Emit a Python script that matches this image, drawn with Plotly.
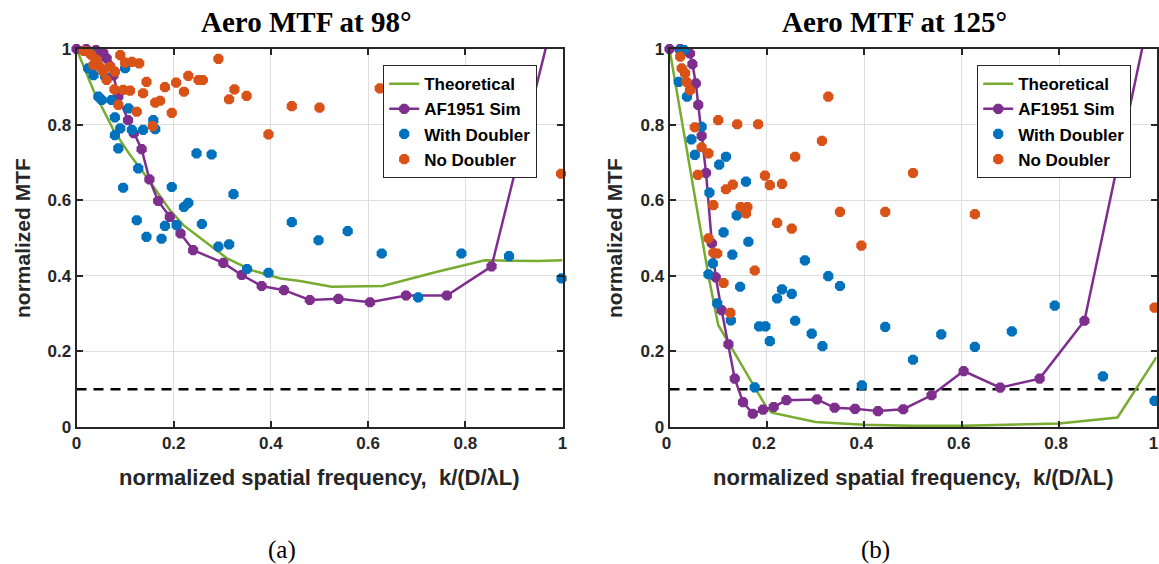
import plotly.graph_objects as go

# ---------------- data: panel (a) 98 deg ----------------
theo_a_x = [0, 0.035, 0.076, 0.11, 0.144, 0.192, 0.22, 0.26, 0.31, 0.36, 0.42, 0.46, 0.525, 0.63, 0.74, 0.84, 0.95, 1.0]
theo_a_y = [1, 0.89, 0.786, 0.72, 0.662, 0.574, 0.534, 0.494, 0.446, 0.415, 0.393, 0.386, 0.371, 0.373, 0.41, 0.441, 0.439, 0.441]

sim_a_x = [0, 0.02, 0.04, 0.055, 0.062, 0.069, 0.076, 0.086, 0.106, 0.118, 0.134, 0.150, 0.168, 0.192, 0.214,
           0.240, 0.302, 0.340, 0.381, 0.427, 0.480, 0.539, 0.604, 0.678, 0.762, 0.854, 1.0]
sim_a_y = [1, 1.0, 0.997, 0.99, 0.975, 0.955, 0.93, 0.874, 0.812, 0.777, 0.735, 0.655, 0.598, 0.556, 0.512,
           0.468, 0.434, 0.402, 0.373, 0.362, 0.336, 0.339, 0.330, 0.348, 0.348, 0.425, 1.18]

dbl_a_x = [0.024, 0.035, 0.059, 0.10, 0.045, 0.052, 0.072, 0.107, 0.079, 0.090, 0.079, 0.114, 0.137, 0.158, 0.162,
           0.086, 0.127, 0.247, 0.278, 0.096, 0.196, 0.323, 0.221, 0.230, 0.124, 0.182, 0.206, 0.258, 0.443,
           0.144, 0.175, 0.292, 0.314, 0.351, 0.395, 0.498, 0.558, 0.628, 0.703, 0.792, 0.890, 0.998, 0.03]
dbl_a_y = [0.949, 0.931, 0.927, 0.949, 0.874, 0.865, 0.865, 0.843, 0.819, 0.790, 0.772, 0.786, 0.786, 0.812, 0.788,
           0.737, 0.684, 0.724, 0.721, 0.633, 0.635, 0.616, 0.582, 0.593, 0.547, 0.532, 0.534, 0.537, 0.542,
           0.503, 0.498, 0.477, 0.483, 0.418, 0.408, 0.494, 0.518, 0.459, 0.343, 0.459, 0.452, 0.393, 0.99]

nod_a_x = [0.024, 0.031, 0.042, 0.035, 0.048, 0.055, 0.069, 0.079, 0.062, 0.090, 0.10, 0.114, 0.129, 0.292, 0.230,
           0.251, 0.26, 0.144, 0.205, 0.182, 0.221, 0.325, 0.350, 0.078, 0.096, 0.110, 0.137, 0.162, 0.172,
           0.314, 0.086, 0.124, 0.196, 0.157, 0.395, 0.443, 0.500, 0.624, 0.997, 0.015]
nod_a_y = [0.993, 0.984, 0.971, 0.958, 0.953, 0.940, 0.953, 0.940, 0.918, 0.984, 0.964, 0.966, 0.962, 0.974, 0.929,
           0.918, 0.918, 0.913, 0.911, 0.899, 0.887, 0.893, 0.876, 0.893, 0.892, 0.890, 0.883, 0.858, 0.863,
           0.867, 0.852, 0.834, 0.831, 0.796, 0.774, 0.849, 0.845, 0.896, 0.670, 0.995]

# ---------------- data: panel (b) 125 deg ----------------
theo_b_x = [0, 0.08, 0.10, 0.20, 0.21, 0.30, 0.40, 0.50, 0.60, 0.70, 0.80, 0.92, 1.0]
theo_b_y = [1, 0.40, 0.27, 0.05, 0.038, 0.013, 0.006, 0.003, 0.003, 0.005, 0.009, 0.025, 0.185]

sim_b_x = [0, 0.022, 0.042, 0.047, 0.054, 0.059, 0.066, 0.075, 0.087, 0.095, 0.107, 0.121, 0.134, 0.151, 0.171,
           0.192, 0.214, 0.240, 0.303, 0.339, 0.381, 0.428, 0.480, 0.538, 0.604, 0.679, 0.760, 0.852, 1.0]
sim_b_y = [1, 1.0, 0.988, 0.960, 0.909, 0.852, 0.770, 0.672, 0.486, 0.396, 0.309, 0.219, 0.128, 0.066, 0.035,
           0.046, 0.053, 0.071, 0.073, 0.051, 0.048, 0.042, 0.047, 0.084, 0.148, 0.104, 0.128, 0.281, 1.18]

dbl_b_x = [0.022, 0.030, 0.019, 0.036, 0.066, 0.045, 0.052, 0.116, 0.102, 0.157, 0.082, 0.138, 0.111, 0.162, 0.129,
           0.089, 0.080, 0.145, 0.098, 0.126, 0.184, 0.197, 0.206, 0.231, 0.221, 0.251, 0.258, 0.175, 0.278,
           0.326, 0.350, 0.292, 0.314, 0.395, 0.443, 0.500, 0.558, 0.627, 0.703, 0.791, 0.890, 0.996]
dbl_b_y = [0.997, 0.997, 0.913, 0.874, 0.794, 0.761, 0.720, 0.715, 0.694, 0.649, 0.620, 0.560, 0.515, 0.490, 0.456,
           0.433, 0.404, 0.371, 0.327, 0.282, 0.266, 0.266, 0.227, 0.364, 0.340, 0.352, 0.281, 0.105, 0.441,
           0.399, 0.373, 0.247, 0.214, 0.110, 0.265, 0.178, 0.245, 0.212, 0.253, 0.321, 0.134, 0.069]

nod_b_x = [0.022, 0.025, 0.032, 0.035, 0.042, 0.100, 0.139, 0.182, 0.052, 0.066, 0.080, 0.326, 0.313, 0.258,
           0.058, 0.196, 0.206, 0.231, 0.116, 0.130, 0.090, 0.146, 0.160, 0.157, 0.350, 0.221, 0.251, 0.080,
           0.090, 0.098, 0.175, 0.111, 0.125, 0.394, 0.443, 0.627, 0.500, 0.996]
nod_b_y = [0.980, 0.949, 0.936, 0.913, 0.891, 0.812, 0.801, 0.801, 0.793, 0.740, 0.724, 0.874, 0.757, 0.715,
           0.667, 0.665, 0.640, 0.643, 0.629, 0.641, 0.587, 0.582, 0.582, 0.565, 0.569, 0.540, 0.525, 0.499,
           0.461, 0.459, 0.414, 0.381, 0.302, 0.480, 0.569, 0.563, 0.672, 0.316]

threshold = 0.1

titles = ["Aero MTF at 98°", "Aero MTF at 125°"]
sublabels = ["(a)", "(b)"]
x_title = "normalized spatial frequency,  k/(D/λL)"
y_title = "normalized MTF"
tick_vals = [0, 0.2, 0.4, 0.6, 0.8, 1]
tick_text = ["0", "0.2", "0.4", "0.6", "0.8", "1"]

# ---------------- styles ----------------
GREEN = "#77AC30"
PURPLE = "#7E2F8E"
BLUE = "#0072BD"
ORANGE = "#D95319"
SANS = "Liberation Sans, Arial, sans-serif"
SERIF = "Liberation Serif, Times New Roman, serif"
W, H = 1159, 564

fig = go.Figure()

panels = [
    (theo_a_x, theo_a_y, sim_a_x, sim_a_y, dbl_a_x, dbl_a_y, nod_a_x, nod_a_y, "x", "y", "legend"),
    (theo_b_x, theo_b_y, sim_b_x, sim_b_y, dbl_b_x, dbl_b_y, nod_b_x, nod_b_y, "x2", "y2", "legend2"),
]
msym = dict(symbol="octagon", size=11)
for (tx, ty, sx, sy, dx, dy, nx, ny, xa, ya, lg) in panels:
    fig.add_trace(go.Scatter(x=[0, 1], y=[threshold, threshold], mode="lines", showlegend=False,
                             line=dict(color="black", width=2.5, dash="10px,7px"), xaxis=xa, yaxis=ya,
                             hoverinfo="skip"))
    fig.add_trace(go.Scatter(x=tx, y=ty, mode="lines", name="Theoretical", legend=lg, legendrank=1,
                             line=dict(color=GREEN, width=2.5), xaxis=xa, yaxis=ya))
    fig.add_trace(go.Scatter(x=sx, y=sy, mode="lines+markers", name="AF1951 Sim", legend=lg, legendrank=2,
                             line=dict(color=PURPLE, width=2.5), marker=dict(color=PURPLE, **msym),
                             xaxis=xa, yaxis=ya, cliponaxis=False))
    fig.add_trace(go.Scatter(x=dx, y=dy, mode="markers", name="With Doubler", legend=lg, legendrank=3,
                             marker=dict(color=BLUE, **msym), xaxis=xa, yaxis=ya, cliponaxis=False))
    fig.add_trace(go.Scatter(x=nx, y=ny, mode="markers", name="No Doubler", legend=lg, legendrank=4,
                             marker=dict(color=ORANGE, **msym), xaxis=xa, yaxis=ya, cliponaxis=False))

x_domains = [[76.5 / W, 562.5 / W], [669.5 / W, 1156.5 / W]]
y_domain = [1 - 427 / H, 1 - 49 / H]

axis_common = dict(range=[0, 1], showgrid=True, gridcolor="#dedede", gridwidth=1, automargin=False,
                   showline=True, linecolor="#262626", linewidth=2, mirror="allticks",
                   ticks="inside", ticklen=6, tickwidth=2, tickcolor="#262626",
                   tickvals=tick_vals, ticktext=tick_text, zeroline=False, ticklabeloverflow="allow",
                   tickfont=dict(family=SANS, size=17, color="#262626", weight="bold"))

fig.update_layout(
    template="none",
    width=W, height=H, margin=dict(l=0, r=0, t=0, b=0, autoexpand=False),
    paper_bgcolor="white", plot_bgcolor="white",
    xaxis=dict(domain=x_domains[0], anchor="y", **axis_common),
    yaxis=dict(domain=y_domain, anchor="x", **axis_common),
    xaxis2=dict(domain=x_domains[1], anchor="y2", ticklabelshift=-3, **axis_common),
    yaxis2=dict(domain=y_domain, anchor="x2", **axis_common),
)

leg_common = dict(bgcolor="white", bordercolor="#262626", borderwidth=1.2,
                  font=dict(family=SANS, size=17, color="black", weight="bold"),
                  xanchor="left", yanchor="top", tracegroupgap=0, itemwidth=30,
                  traceorder="normal")
fig.update_layout(
    legend=dict(x=383 / W, y=1 - 65 / H, **leg_common),
    legend2=dict(x=977 / W, y=1 - 65 / H, **leg_common),
)

annotations = []
title_cx = [306, 894]
plot_cx = [319.5, 913]
ytitle_x = [22, 614]
for i in range(2):
    annotations.append(dict(text=titles[i], x=title_cx[i] / W, y=1 - 22 / H, xref="paper", yref="paper",
                            showarrow=False, xanchor="center", yanchor="middle",
                            font=dict(family=SERIF, size=29, color="black", weight="bold")))
    annotations.append(dict(text=sublabels[i], x=[282, 875][i] / W, y=1 - 550 / H, xref="paper", yref="paper",
                            showarrow=False, xanchor="center", yanchor="middle",
                            font=dict(family=SERIF, size=25, color="black")))
    annotations.append(dict(text=x_title, x=plot_cx[i] / W, y=1 - 478 / H, xref="paper", yref="paper",
                            showarrow=False, xanchor="center", yanchor="middle",
                            font=dict(family=SANS, size=22, color="#262626", weight="bold")))
    annotations.append(dict(text=y_title, x=ytitle_x[i] / W, y=1 - 238 / H, xref="paper", yref="paper",
                            showarrow=False, xanchor="center", yanchor="middle", textangle=-90,
                            font=dict(family=SANS, size=21, color="#262626", weight="bold")))
fig.update_layout(annotations=annotations)

fig.write_html("out.html")
